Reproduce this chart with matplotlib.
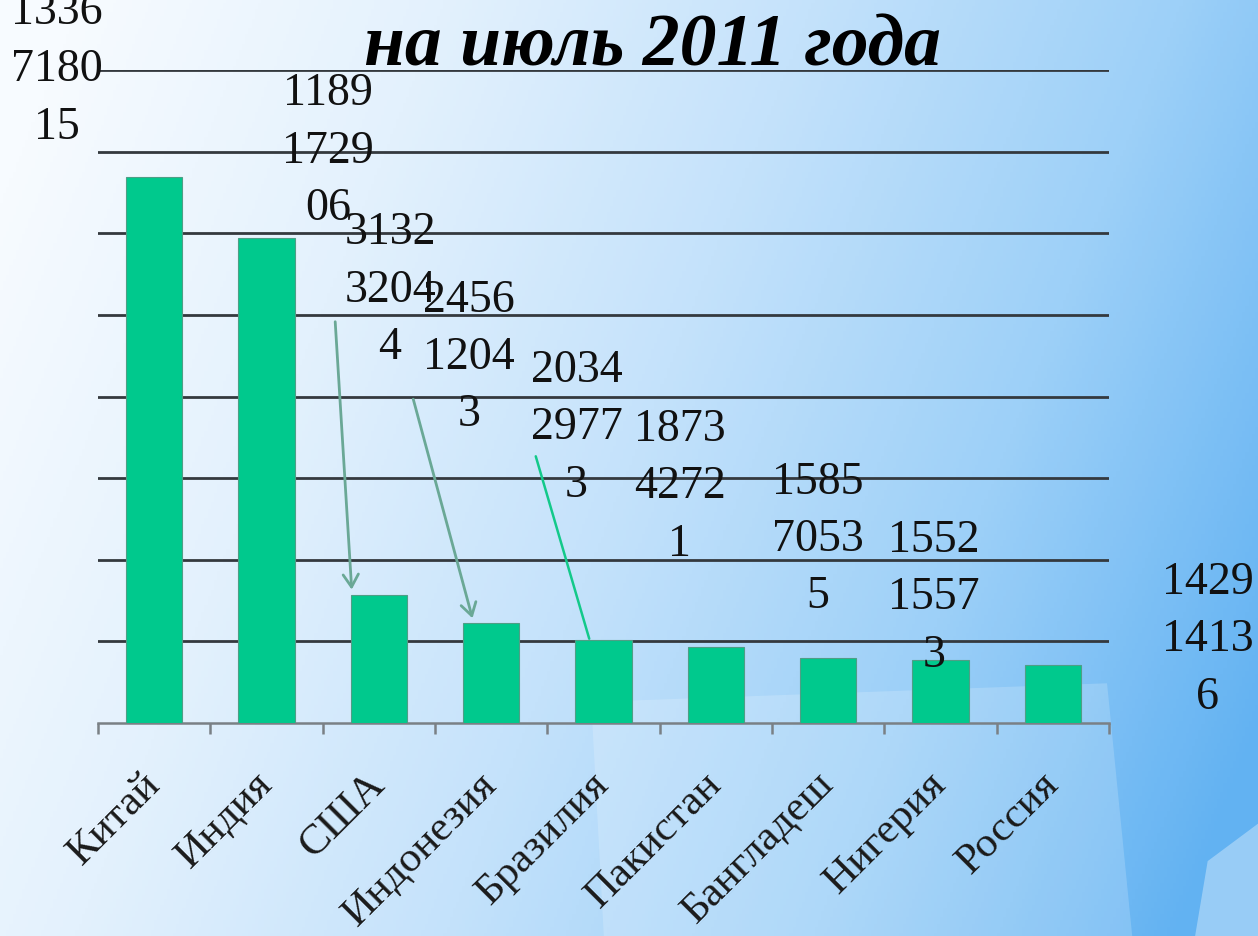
import matplotlib
matplotlib.use("Agg")
import matplotlib.pyplot as plt
import matplotlib.patches as mpatches
from matplotlib.colors import LinearSegmentedColormap
import numpy as np

COUNTRIES = ["Китай", "Индия", "США", "Индонезия", "Бразилия",
             "Пакистан", "Бангладеш", "Нигерия", "Россия"]
POPULATION = [1336718015, 1189172906, 313232044, 245612043, 203429773,
              187342721, 158570535, 155215573, 142914136]
TITLE = "на июль 2011 года"

# where the (hand-moved) value labels sit: x in category units, y in people
LABEL_X = [-0.87, 1.55, 2.10, 2.80, 3.76, 4.68, 5.91, 6.94, 9.38]
LABEL_Y = [1.60e9, 1.40e9, 1.06e9, 0.895e9, 0.723e9, 0.578e9, 0.449e9, 0.306e9, 0.203e9]

BAR_COLOR = "#00c98d"
SERIF = "Liberation Serif"


def split_digits(v, n=4):
    s = str(v)
    return "\n".join(s[i:i + n] for i in range(0, len(s), n))


fig = plt.figure(figsize=(12.58, 9.36), dpi=100)

# slide background: white top-left fading into blue on the right
bg = fig.add_axes([0, 0, 1, 1], zorder=-5)
gx, gy = np.meshgrid(np.linspace(0, 1, 400), np.linspace(0, 1, 300))
t = np.clip(0.85 * gx + 0.25 * gy - 0.05, 0, 1)
cmap = LinearSegmentedColormap.from_list(
    "slide", ["#f7fbff", "#e3f1fd", "#c4e2fb", "#9dd0f8", "#62b2f2"])
bg.imshow(t, cmap=cmap, aspect="auto", extent=[0, 1, 0, 1], origin="upper")
bg.add_patch(mpatches.Polygon([[0.47, 0.25], [0.88, 0.27], [0.90, 0.0], [0.48, 0.0]],
                              closed=True, color="white", alpha=0.18, lw=0))
bg.add_patch(mpatches.Polygon([[0.95, 0.0], [1.0, 0.0], [1.0, 0.12], [0.96, 0.08]],
                              closed=True, color="white", alpha=0.35, lw=0))
bg.set_xlim(0, 1)
bg.set_ylim(0, 1)
bg.axis("off")

ax = fig.add_axes([98 / 1258, 1 - 723 / 936, 1011 / 1258, 653 / 936])
ax.patch.set_alpha(0)
x = np.arange(len(COUNTRIES))
ax.bar(x, POPULATION, width=0.5, color=BAR_COLOR, edgecolor="#4f9e86",
       linewidth=0.8, zorder=3)

ax.set_xlim(-0.5, len(COUNTRIES) - 0.5)
ax.set_ylim(0, 1.6e9)
ax.set_yticks(np.arange(2e8, 1.61e9, 2e8))
ax.yaxis.grid(True, color="#34393e", linewidth=2.0, zorder=1)
ax.tick_params(axis="y", length=0, labelleft=False)
for side in ["top", "right", "left"]:
    ax.spines[side].set_visible(False)
ax.spines["bottom"].set_color("#7a8085")
ax.spines["bottom"].set_linewidth(1.8)

ax.set_xticks(x)
ax.set_xticklabels(COUNTRIES, rotation=45, ha="right", va="center",
                   rotation_mode="anchor", fontsize=31, family=SERIF,
                   color="#1a1a1a")
ax.tick_params(axis="x", which="major", length=0, pad=40)
ax.set_xticks(np.arange(-0.5, len(COUNTRIES)), minor=True)
ax.tick_params(axis="x", which="minor", length=8, width=1.8, color="#7a8085")

for i, v in enumerate(POPULATION):
    ax.text(LABEL_X[i], LABEL_Y[i], split_digits(v), ha="center", va="center",
            fontsize=33, family=SERIF, linespacing=1.46, color="#111111",
            clip_on=False, zorder=5)

# pointer arrows drawn on the slide
arrow_kw = dict(arrowstyle="->,head_length=0.9,head_width=0.55",
                color="#6aa896", lw=2)
ax.annotate("", xy=(1.76, 3.2e8), xytext=(1.61, 9.9e8),
            arrowprops=arrow_kw, zorder=6)
ax.annotate("", xy=(2.84, 2.5e8), xytext=(2.30, 8.0e8),
            arrowprops=arrow_kw, zorder=6)
ax.annotate("", xy=(3.88, 2.0e8), xytext=(3.39, 6.6e8),
            arrowprops=dict(arrowstyle="-", color="#13c98a", lw=1.8), zorder=6)

fig.text(653 / 1258, 1 - 48 / 936, TITLE, ha="center", va="center",
         fontsize=53, family=SERIF, style="italic", weight="bold", zorder=10)

fig.savefig("out.png", dpi=100)
